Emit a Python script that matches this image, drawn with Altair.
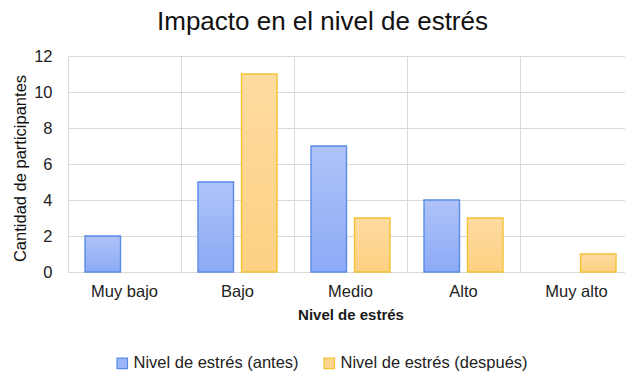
import altair as alt
import pandas as pd

categories = ["Muy bajo", "Bajo", "Medio", "Alto", "Muy alto"]
antes = [2, 5, 7, 4, 0]
despues = [0, 11, 3, 3, 1]
series = ["Nivel de estrés (antes)", "Nivel de estrés (después)"]

rows = []
for cat, a, d in zip(categories, antes, despues):
    rows.append({"nivel": cat, "serie": series[0], "valor": a})
    rows.append({"nivel": cat, "serie": series[1], "valor": d})
df = pd.DataFrame(rows)

FONT = "Liberation Sans"
GRID = "#d9d9d9"
TXT = 16.5

blue_fill = alt.Gradient(
    gradient="linear", x1=0, x2=0, y1=0, y2=1,
    stops=[alt.GradientStop(color="#aec3f7", offset=0),
           alt.GradientStop(color="#8caaf6", offset=1)],
)
gold_fill = alt.Gradient(
    gradient="linear", x1=0, x2=0, y1=0, y2=1,
    stops=[alt.GradientStop(color="#fedba0", offset=0),
           alt.GradientStop(color="#fdd183", offset=1)],
)

x_enc = alt.X(
    "nivel:N", sort=categories,
    scale=alt.Scale(range=[0, 565], paddingInner=0, paddingOuter=0),
    axis=alt.Axis(
        title="Nivel de estrés", bandPosition=0, grid=True, gridColor=GRID,
        domain=False, ticks=False, labelAngle=0, labelFontSize=TXT,
        labelPadding=11, labelColor="#222222", titleFontSize=15,
        titleFontWeight="bold", titleColor="#1a1a1a", titlePadding=8,
    ),
)
xo_enc = alt.XOffset(
    "serie:N", sort=series,
    scale=alt.Scale(domain=series, paddingInner=0.184, paddingOuter=0.391),
)
y_enc = alt.Y(
    "valor:Q",
    scale=alt.Scale(domain=[0, 12]),
    axis=alt.Axis(
        title="Cantidad de participantes", values=[0, 2, 4, 6, 8, 10, 12],
        grid=True, gridColor=GRID, domain=False, ticks=False,
        labelFontSize=TXT, labelPadding=16, labelColor="#222222",
        titleFontSize=TXT, titleFontWeight="normal", titleColor="#111111",
        titlePadding=5, titleY=112,
    ),
)

legend_def = alt.Legend(
    title=None, orient="none", direction="horizontal",
    legendX=46, legendY=299, symbolType="square", symbolSize=110,
    symbolOpacity=1, symbolStrokeWidth=1.2, labelFontSize=TXT,
    labelColor="#222222", columnPadding=22, labelOffset=3, labelLimit=0,
)

base = alt.Chart(df)

# Invisible layer that carries the legend
legend_layer = base.mark_bar(opacity=0).encode(
    x=x_enc, xOffset=xo_enc, y=y_enc,
    color=alt.Color(
        "serie:N", sort=series,
        scale=alt.Scale(domain=series, range=["#9bb6f6", "#fdd690"]),
        legend=legend_def,
    ),
    stroke=alt.Stroke(
        "serie:N", sort=series,
        scale=alt.Scale(domain=series, range=["#5b8ae8", "#f2c233"]),
        legend=legend_def,
    ),
)

antes_layer = base.transform_filter(
    (alt.datum.serie == series[0]) & (alt.datum.valor > 0)
).mark_bar(fill=blue_fill, stroke="#5b8ae8", strokeWidth=1.4).encode(
    x=x_enc, xOffset=xo_enc, y=y_enc
)

despues_layer = base.transform_filter(
    (alt.datum.serie == series[1]) & (alt.datum.valor > 0)
).mark_bar(fill=gold_fill, stroke="#f2c233", strokeWidth=1.4).encode(
    x=x_enc, xOffset=xo_enc, y=y_enc
)

chart = alt.layer(legend_layer, antes_layer, despues_layer).properties(
    width=557,
    height=216,
    title=alt.TitleParams(
        "Impacto en el nivel de estrés", fontSize=26, font=FONT,
        fontWeight="normal", color="#111111", anchor="middle", dx=-24,
        offset=13,
    ),
    padding={"left": 68, "top": 56, "right": 0, "bottom": 103},
    autosize=alt.AutoSizeParams(type="none"),
).configure(font=FONT).configure_view(stroke=None)

chart.save("out.html", embed_options={"renderer": "svg", "actions": False})
